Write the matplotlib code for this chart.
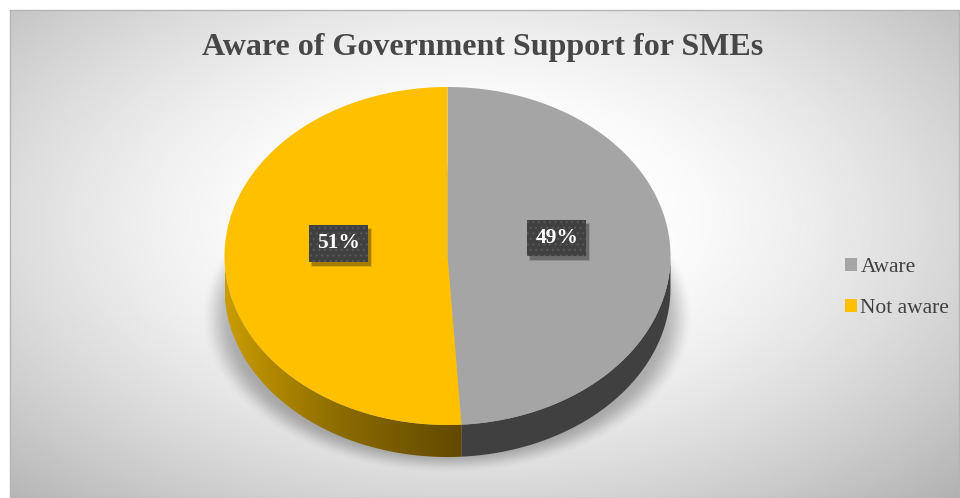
import numpy as np
import matplotlib
matplotlib.use("Agg")
import matplotlib.pyplot as plt
from matplotlib.patches import Polygon, Rectangle
from matplotlib.colors import LinearSegmentedColormap
from matplotlib.transforms import IdentityTransform

# --- data ---
categories = ["Aware", "Not aware"]
shares = [49, 51]
colors = ["#a5a5a5", "#ffc000"]
side_colors = ["#404040", None]   # yellow side gets a gradient
title = "Aware of Government Support for SMEs"

W, H = 960, 498
fig = plt.figure(figsize=(W / 100, H / 100), dpi=100)
fig.patch.set_facecolor("white")

# --- background panel with radial gradient (pixel coordinates) ---
bg = fig.add_axes([0, 0, 1, 1])
bg.set_xlim(0, W)
bg.set_ylim(H, 0)
bg.axis("off")

x0, x1, y0, y1 = 10, 959, 10, 498
gx, gy = np.meshgrid(np.linspace(x0, x1, 480), np.linspace(y0, y1, 250))
r = np.sqrt(((gx - 470) / 480) ** 2 + ((gy - 220) / 270) ** 2)
shade = np.clip(1.0 - 0.25 * np.clip(r - 0.3, 0, None) ** 1.4, 0, 1)
bg.imshow(shade, cmap="gray", vmin=0, vmax=1, extent=[x0, x1, y1, y0],
          aspect="auto", interpolation="bilinear", zorder=0)
bg.add_patch(Rectangle((x0, y0), x1 - x0, y1 - y0, fill=False,
                       ec="#b4b4b4", lw=1, zorder=1))

# soft shadow under the pie
cx, cy, rx, ry, depth = 447.5, 256, 223, 169, 32
sx, sy = np.meshgrid(np.linspace(180, 720, 540), np.linspace(150, 498, 348))
rr = np.sqrt(((sx - cx) / 238) ** 2 + ((sy - (cy + 60)) / 152) ** 2)
s = np.clip((rr - 0.9) / 0.14, 0, 1)
s = s * s * (3 - 2 * s)
rgba = np.zeros(sx.shape + (4,))
rgba[..., 3] = 0.28 * (1 - s)
bg.imshow(rgba, extent=[180, 720, 498, 150], aspect="auto",
          interpolation="bilinear", zorder=2)

bg.text(483, 47, title, ha="center", va="center", fontsize=23,
        fontweight="bold", family="Liberation Serif", color="#474747", zorder=3)

# --- pie axes: unit circle squashed to the ellipse ---
xl, yl = (-1.2, 1.2), (-1.4, 1.2)
ax_w = (xl[1] - xl[0]) * rx
ax_h = (yl[1] - yl[0]) * ry
ax_x = cx + xl[0] * rx
ax_y = (H - cy) + yl[0] * ry
ax = fig.add_axes([ax_x / W, ax_y / H, ax_w / W, ax_h / H])

wedges, _ = ax.pie(shares, colors=colors, startangle=90, counterclock=False,
                   wedgeprops=dict(linewidth=0, zorder=3))
ax.set_aspect("auto")
ax.set_xlim(*xl)
ax.set_ylim(*yl)
ax.axis("off")

# side wall of the disc (front half only)
d = depth / ry
fracs = np.array(shares) / sum(shares)
bounds = 90 - 360 * np.concatenate([[0], np.cumsum(fracs)])
yellow_side = LinearSegmentedColormap.from_list("side", ["#c99c00", "#8a6a00", "#624900"])
for i in range(len(shares)):
    if i == 0:
        lo, hi = bounds[1] % 360, 360
    else:
        lo, hi = 180, bounds[1] % 360
    t = np.radians(np.linspace(lo, hi, 200))
    pts = np.vstack([np.c_[np.cos(t), np.sin(t)],
                     np.c_[np.cos(t[::-1]), np.sin(t[::-1]) - d]])
    if side_colors[i] is not None:
        ax.add_patch(Polygon(pts, closed=True, fc=side_colors[i], ec="none", zorder=2))
    else:
        poly = Polygon(pts, closed=True, fc="none", ec="none", zorder=2)
        ax.add_patch(poly)
        xs = np.cos(t)
        grad = np.linspace(0, 1, 300)[None, :]
        im = ax.imshow(grad, cmap=yellow_side, extent=[xs.min(), xs.max(), -1 - d, 0.1],
                       aspect="auto", zorder=2, interpolation="bilinear")
        im.set_clip_path(poly)

# percentage labels in dark dotted boxes
plt.rcParams["hatch.linewidth"] = 0.8
labels = []
for w, frac in zip(wedges, fracs):
    mid = np.radians((w.theta1 + w.theta2) / 2)
    lx, ly = 0.49 * np.cos(mid), 0.49 * np.sin(mid) + 0.09
    labels.append(ax.text(lx, ly, f"{frac * 100:.0f}%", ha="center", va="center",
                          fontsize=15.5, fontweight="bold", family="Liberation Serif",
                          color="white", zorder=5,
                          bbox=dict(boxstyle="square,pad=0.38", fc="#404040",
                                    ec="#575757", lw=0, hatch="...")))

# drop shadows behind the label boxes (display pixels)
fig.canvas.draw()
for lab in labels:
    ext = lab.get_bbox_patch().get_window_extent()
    ax.add_patch(Rectangle((ext.x0 + 2, ext.y0 - 5), ext.width + 2, ext.height + 2,
                           fc="black", ec="none", alpha=0.12, zorder=4,
                           transform=IdentityTransform()))
    ax.add_patch(Rectangle((ext.x0 + 3, ext.y0 - 4), ext.width, ext.height,
                           fc="black", ec="none", alpha=0.25, zorder=4,
                           transform=IdentityTransform()))

fig.legend(wedges, categories, loc="center left",
           bbox_to_anchor=(826 / W, 1 - 288 / H), frameon=False,
           prop=dict(family="Liberation Serif", size=15.5), labelcolor="#404040",
           handlelength=0.55, handleheight=0.55, handletextpad=0.15,
           labelspacing=1.0)

fig.savefig("out.png", dpi=100, facecolor="white")
